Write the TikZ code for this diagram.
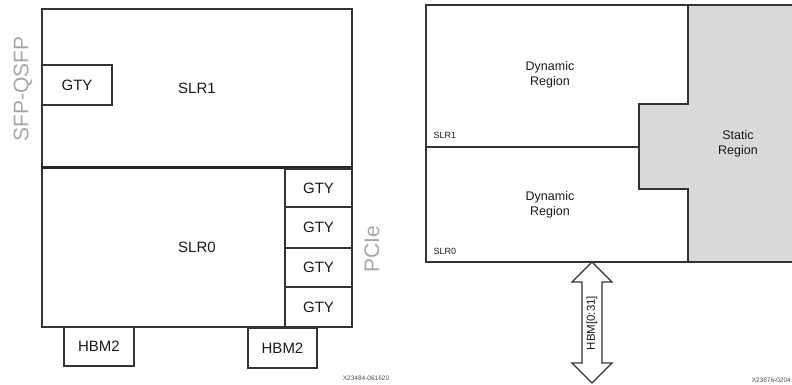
\documentclass[tikz,border=0pt]{standalone}
\usepackage{fontspec}
\setmainfont{Liberation Sans}
\begin{document}
\begin{tikzpicture}[x=1pt,y=-1pt,
  box/.style={draw=black!80, line width=1.1pt, inner sep=0pt, anchor=center},
  big/.style={font=\fontsize{15}{17}\selectfont, text=black!90},
  mid/.style={font=\fontsize{12.5}{14.5}\selectfont, text=black!90, align=center},
  small/.style={font=\fontsize{9}{10}\selectfont, text=black!90},
  side/.style={font=\fontsize{21}{24}\selectfont, text=black!35, rotate=90},
  tiny/.style={font=\fontsize{6.5}{7}\selectfont, text=black!70}]
\useasboundingbox (0,0) rectangle (792,385);
% ---- left diagram ----
\node[box, minimum width=310, minimum height=158, big] (slr1) at (197,88) {SLR1};
\node[box, minimum width=310, minimum height=160, big] (slr0) at (197,247) {SLR0};
\draw[black!85, line width=2.6pt] (slr1.south west) -- (slr1.south east);
\node[box, minimum width=70, minimum height=40, big] (gtyl) at (77,85) {GTY};
\node[box, minimum width=67, minimum height=38, big] (gty1) at (318.5,188) {GTY};
\node[box, minimum width=67, minimum height=41, big] (gty2) at (318.5,227.5) {GTY};
\node[box, minimum width=67, minimum height=39, big] (gty3) at (318.5,267.5) {GTY};
\node[box, minimum width=67, minimum height=40, big] (gty4) at (318.5,307) {GTY};
\node[box, minimum width=70, minimum height=39, big] (hbml) at (99,346.5) {HBM2};
\node[box, minimum width=69, minimum height=40, big] (hbmr) at (282.5,348) {HBM2};
\node[side] (sfp) at (23,89) {SFP-QSFP};
\node[side] (pcie) at (372,249) {PCIe};
\node[tiny] (id1) at (366,378) {X23484-061620};
% ---- right diagram ----
\coordinate (tl) at (426,5);
\coordinate (tr) at (792,5);
\coordinate (bl) at (426,262);
\coordinate (br) at (792,262);
\fill[black!15] (688,5) -- (792,5) -- (792,262) -- (688,262) -- (688,189) -- (639,189) -- (639,104) -- (688,104) -- cycle;
\draw[black!80, line width=1.1pt] (tr) -- (tl) -- (bl) -- (br);
\draw[black!80, line width=1.1pt] (688,5) -- (688,104) -- (639,104) -- (639,189) -- (688,189) -- (688,262);
\draw[black!80, line width=1.1pt] (426,147) -- (639,147);
\node[mid] (dyn1) at (550,75) {Dynamic\\Region};
\node[mid] (dyn0) at (550,205) {Dynamic\\Region};
\node[mid] (stat) at (738,144) {Static\\Region};
\node[small, anchor=west] (l1) at (430,135) {SLR1};
\node[small, anchor=west] (l0) at (430,251) {SLR0};
\coordinate (ab) at (592,262);
\coordinate (ae) at (592,383);
\draw[black!80, line width=1.1pt, fill=white] (ab) -- (612,282) -- (602,282) -- (602,363) -- (612,363) -- (ae) -- (572,363) -- (582,363) -- (582,282) -- (572,282) -- cycle;
\node[font=\fontsize{11.5}{13}\selectfont, text=black!90, rotate=90] (hbm) at (592,323) {HBM[0:31]};
\node[tiny, anchor=east, inner xsep=1pt] (id2) at (792,380) {X23676-0204};
\end{tikzpicture}
\end{document}
